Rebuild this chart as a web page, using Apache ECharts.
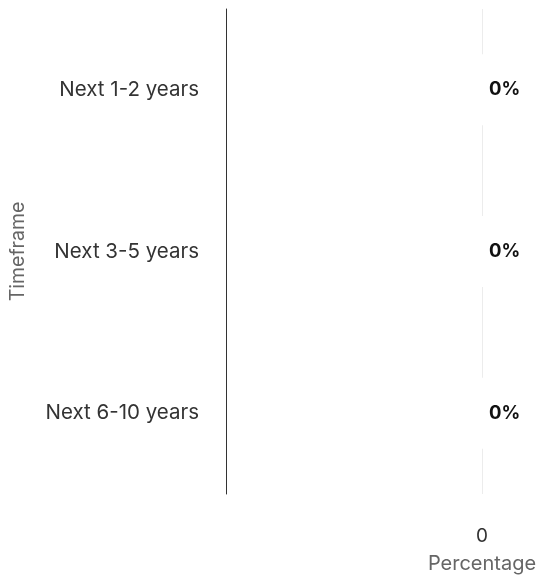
<!DOCTYPE html>
<html><head><meta charset="utf-8">
<script src="https://cdn.jsdelivr.net/npm/echarts@6/dist/echarts.min.js"></script>
<style>html,body{margin:0;padding:0;background:#fff}#c{width:545px;height:581px}</style>
</head><body><div id="c"></div>
<script>
const categories = ["Next 1-2 years", "Next 3-5 years", "Next 6-10 years"];
const values = [0, 0, 0];
const xTickLabels = ["0"];

const chart = echarts.init(document.getElementById('c'), null, {renderer: 'canvas'});
chart.setOption({
  animation: false,
  textStyle: {fontFamily: 'Inter'},
  grid: {left: 226, right: 63, top: 9, bottom: 87, containLabel: false},
  xAxis: {
    type: 'value', min: -1, max: 0, interval: 1,
    axisLine: {show: false}, axisTick: {show: false},
    axisLabel: {margin: 33, fontSize: 19, color: '#333', fontFamily: 'Inter',
      formatter: v => (v === 0 ? xTickLabels[0] : '')},
    splitLine: {show: true, lineStyle: {color: '#ececec', width: 1}},
    name: 'Percentage', nameLocation: 'end', nameGap: 0,
    nameTextStyle: {align: 'center', verticalAlign: 'top', padding: [60, 0, 0, 0],
      fontSize: 20, color: '#666', fontFamily: 'Inter'}
  },
  yAxis: {
    type: 'category', data: categories, inverse: true,
    axisLine: {show: true, onZero: false, lineStyle: {color: '#333', width: 1}},
    axisTick: {show: false},
    axisLabel: {margin: 27, fontSize: 20.5, color: '#333', fontFamily: 'Inter'},
    name: 'Timeframe', nameLocation: 'middle', nameGap: 198,
    nameTextStyle: {fontSize: 19.5, color: '#666', fontFamily: 'Inter'}
  },
  series: [{
    type: 'bar', data: values, barWidth: '45%',
    itemStyle: {color: '#4c78a8'},
    label: {show: true, position: 'right', distance: 0,
      formatter: p => p.value + '%', fontWeight: 'bold', fontSize: 18.5, color: '#111',
      fontFamily: 'Inter', backgroundColor: '#fff', padding: [26, 4, 26, 7]}
  }]
});
</script></body></html>
